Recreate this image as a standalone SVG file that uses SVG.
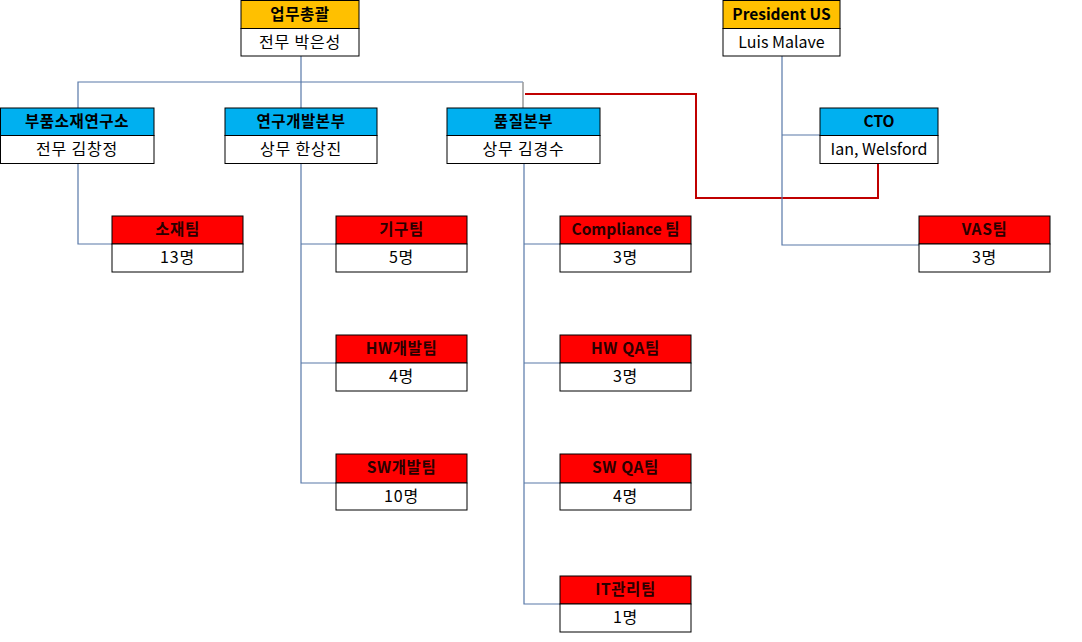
<svg xmlns="http://www.w3.org/2000/svg" width="1082" height="642" viewBox="0 0 1082 642">
<style>
.box{stroke:#000;stroke-width:1}
.ho{fill:#FFC000}
.hb{fill:#00B0F0}
.hr{fill:#FF0000}
.bd{fill:#fff}
.t{font-family:"Malgun Gothic","Noto Sans CJK KR","Noto Sans",sans-serif;font-size:16px;text-anchor:middle}
.th{font-weight:bold;fill:#000;font-size:15.5px;letter-spacing:0.6px}
.tr{font-weight:bold;fill:#2a0000;font-size:15.5px;letter-spacing:0.6px}
.tb{fill:#000;letter-spacing:0.8px}
.lat{letter-spacing:0}
.c{fill:none;stroke:#5878a8;stroke-width:1.2}
.cg{fill:none;stroke:#999;stroke-width:1.5}
.cr{fill:none;stroke:#c00000;stroke-width:2}
</style>
<rect width="1082" height="642" fill="#fff"/>
<g id="connectors">
<path class="c" d="M301 56V82"/>
<path class="c" d="M78 108V82H523"/>
<path class="c" d="M301 82V108"/>
<path class="cg" d="M523 82V108"/>
<path class="cr" d="M525 94H696V198H878V164"/>
<path class="c" d="M782 56V245H919"/>
<path class="c" d="M782 135H820"/>
<path class="c" d="M78 164V244H112"/>
<path class="c" d="M301 164V483H336"/>
<path class="c" d="M301 244H336"/>
<path class="c" d="M301 363H336"/>
<path class="c" d="M524 164V604H560"/>
<path class="c" d="M524 244H560"/>
<path class="c" d="M524 363H560"/>
<path class="c" d="M524 483H560"/>
</g>
<g id="n-top">
<rect class="box ho" x="241" y="0.5" width="118" height="28"/>
<rect class="box bd" x="241" y="28.5" width="118" height="27.5"/>
<text class="t th" x="300" y="20">업무총괄</text>
<text class="t tb" x="300" y="48">전무 박은성</text>
</g>
<g id="n-president">
<rect class="box ho" x="723" y="0.5" width="117" height="28"/>
<rect class="box bd" x="723" y="28.5" width="117" height="27.5"/>
<text class="t th lat" x="781.5" y="20">President US</text>
<text class="t tb lat" x="781.5" y="48">Luis Malave</text>
</g>
<g id="n-parts">
<rect class="box hb" x="0.5" y="108" width="153.5" height="27.5"/>
<rect class="box bd" x="0.5" y="135.5" width="153.5" height="28"/>
<text class="t th" x="77" y="127">부품소재연구소</text>
<text class="t tb" x="77" y="155">전무 김창정</text>
</g>
<g id="n-rnd">
<rect class="box hb" x="225" y="108" width="152" height="27.5"/>
<rect class="box bd" x="225" y="135.5" width="152" height="28"/>
<text class="t th" x="301" y="127">연구개발본부</text>
<text class="t tb" x="301" y="155">상무 한상진</text>
</g>
<g id="n-quality">
<rect class="box hb" x="447" y="108" width="153" height="27.5"/>
<rect class="box bd" x="447" y="135.5" width="153" height="28"/>
<text class="t th" x="523.5" y="127">품질본부</text>
<text class="t tb" x="523.5" y="155">상무 김경수</text>
</g>
<g id="n-cto">
<rect class="box hb" x="820" y="108" width="118" height="27.5"/>
<rect class="box bd" x="820" y="135.5" width="118" height="28"/>
<text class="t th lat" x="879" y="127">CTO</text>
<text class="t tb lat" x="879" y="155">Ian, Welsford</text>
</g>
<g id="n-sojae">
<rect class="box hr" x="112" y="216" width="131" height="28"/>
<rect class="box bd" x="112" y="244" width="131" height="28"/>
<text class="t tr" x="177.5" y="235">소재팀</text>
<text class="t tb" x="177.5" y="263">13명</text>
</g>
<g id="n-gigu">
<rect class="box hr" x="336" y="216" width="131" height="28"/>
<rect class="box bd" x="336" y="244" width="131" height="28"/>
<text class="t tr" x="401.5" y="235">기구팀</text>
<text class="t tb" x="401.5" y="263">5명</text>
</g>
<g id="n-hwdev">
<rect class="box hr" x="336" y="335" width="131" height="28"/>
<rect class="box bd" x="336" y="363" width="131" height="28"/>
<text class="t tr" x="401.5" y="354">HW개발팀</text>
<text class="t tb" x="401.5" y="382">4명</text>
</g>
<g id="n-swdev">
<rect class="box hr" x="336" y="454" width="131" height="29"/>
<rect class="box bd" x="336" y="483" width="131" height="27"/>
<text class="t tr" x="401.5" y="473">SW개발팀</text>
<text class="t tb" x="401.5" y="502">10명</text>
</g>
<g id="n-compliance">
<rect class="box hr" x="560" y="216" width="131" height="28"/>
<rect class="box bd" x="560" y="244" width="131" height="28"/>
<text class="t tr lat" x="625.5" y="235">Compliance 팀</text>
<text class="t tb" x="625.5" y="263">3명</text>
</g>
<g id="n-hwqa">
<rect class="box hr" x="560" y="335" width="131" height="28"/>
<rect class="box bd" x="560" y="363" width="131" height="28"/>
<text class="t tr" x="625.5" y="354">HW QA팀</text>
<text class="t tb" x="625.5" y="382">3명</text>
</g>
<g id="n-swqa">
<rect class="box hr" x="560" y="454" width="131" height="29"/>
<rect class="box bd" x="560" y="483" width="131" height="27"/>
<text class="t tr" x="625.5" y="473">SW QA팀</text>
<text class="t tb" x="625.5" y="502">4명</text>
</g>
<g id="n-it">
<rect class="box hr" x="560" y="576" width="131" height="28"/>
<rect class="box bd" x="560" y="604" width="131" height="28"/>
<text class="t tr" x="625.5" y="595">IT관리팀</text>
<text class="t tb" x="625.5" y="623">1명</text>
</g>
<g id="n-vas">
<rect class="box hr" x="919" y="216" width="131" height="28"/>
<rect class="box bd" x="919" y="244" width="131" height="28"/>
<text class="t tr" x="984.5" y="235">VAS팀</text>
<text class="t tb" x="984.5" y="263">3명</text>
</g>
</svg>
